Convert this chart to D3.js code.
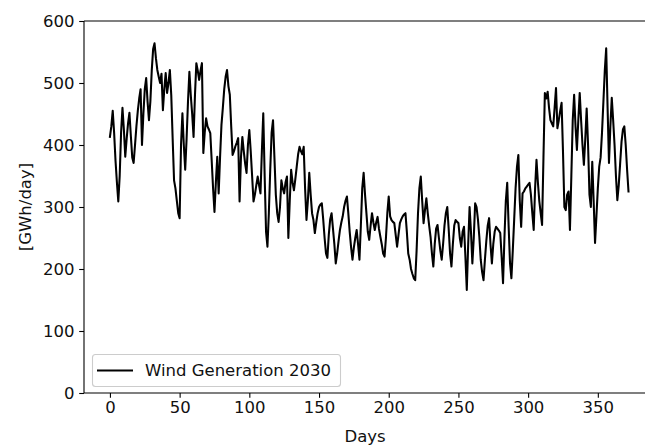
<!DOCTYPE html>
<html>
<head>
<meta charset="utf-8">
<script src="https://cdn.jsdelivr.net/npm/d3@7/dist/d3.min.js"></script>
<style>
  html, body { margin: 0; padding: 0; background: #fff; }
  svg { display: block; font-family: "DejaVu Sans", sans-serif; }
</style>
</head>
<body>
<svg id="chart" width="645" height="446"></svg>
<script>
// Daily wind generation for 2030, GWh/day
const windGeneration2030 = [
  413, 430, 455, 420, 375, 340, 309, 350, 420, 460,
  425, 381, 410, 435, 452, 415, 380, 371, 400, 430,
  455, 475, 490, 400, 450, 490, 508, 470, 440, 470,
  520, 555, 564, 540, 521, 510, 500, 515, 456, 490,
  516, 484, 500, 521, 480, 410, 343, 330, 310, 290,
  282, 400, 451, 400, 360, 410, 470, 518, 480, 450,
  413, 480, 532, 520, 505, 520, 532, 387, 420, 443,
  430, 425, 419, 375, 330, 292, 340, 381, 322, 380,
  432, 460, 490, 510, 521, 495, 481, 430, 384, 390,
  398, 404, 411, 309, 380, 413, 390, 370, 355, 400,
  424, 390, 350, 309, 320, 335, 349, 335, 322, 390,
  451, 350, 260, 236, 290, 360, 420, 440, 380, 320,
  290, 276, 300, 343, 330, 322, 340, 349, 250, 310,
  360, 340, 327, 345, 365, 385, 397, 390, 385, 397,
  330, 279, 310, 355, 320, 290, 279, 258, 275, 290,
  300, 304, 306, 280, 250, 225, 218, 255, 280, 290,
  265, 240, 209, 225, 245, 263, 275, 285, 300, 310,
  317, 290, 260, 235, 215, 235, 250, 263, 240, 215,
  270, 330, 355, 320, 290, 260, 247, 270, 290, 275,
  263, 275, 284, 265, 252, 240, 225, 220, 250, 290,
  317, 285, 279, 276, 274, 255, 236, 255, 274, 280,
  285, 288, 290, 260, 225, 215, 200, 192, 185, 182,
  230, 290, 330, 349, 310, 274, 295, 314, 290, 270,
  252, 225, 204, 240, 265, 271, 250, 230, 215, 240,
  270, 290, 300, 265, 225, 204, 240, 270, 279, 276,
  274, 250, 236, 260, 268, 220, 166, 240, 300, 260,
  209, 250, 306, 300, 280, 252, 215, 195, 182, 215,
  245, 270, 282, 240, 209, 240, 260, 268, 265, 262,
  258, 220, 177, 250, 310, 339, 270, 210, 185, 230,
  280, 330, 365, 384, 310, 268, 322, 325, 330, 333,
  336, 339, 320, 290, 263, 330, 376, 340, 310, 290,
  271, 380, 484, 475, 486, 460, 440, 435, 430, 460,
  492, 427, 440, 455, 468, 390, 300, 295, 320, 325,
  263, 350, 440, 481, 430, 392, 440, 484, 440, 400,
  368, 410, 459, 400, 320, 300, 373, 310, 242, 285,
  330, 365, 380, 420, 470, 520, 556, 460, 371, 430,
  476, 440, 400, 350, 311, 335, 370, 405, 425, 430,
  400, 360, 325
];
const days = windGeneration2030.map((_, i) => i);

const xTicks = [0, 50, 100, 150, 200, 250, 300, 350];
const yTicks = [0, 100, 200, 300, 400, 500, 600];
const seriesLabel = "Wind Generation 2030";
const xLabel = "Days";
const yLabel = "[GWh/day]";

const svg = d3.select("#chart");
const fontSize = 16.5;
const textColor = "#111";

// Axes box: left spine at 84, top spine at 21, bottom spine at 393
const plot = { left: 84, top: 21, bottom: 393 };
const xMin = d3.min(days), xMax = d3.max(days);
const pad = (xMax - xMin) * 0.05;
const pxPerDay = 1.394;
const x = d3.scaleLinear()
  .domain([xMin - pad, xMax + pad])
  .range([plot.left, plot.left + (xMax - xMin + 2 * pad) * pxPerDay]);
const y = d3.scaleLinear().domain([0, 600]).range([plot.bottom, plot.top]);
const right = x.range()[1];

const axisColor = "#000";

// Series line
const line = d3.line()
  .x((d, i) => x(days[i]))
  .y(d => y(d));

svg.append("path")
  .datum(windGeneration2030)
  .attr("fill", "none")
  .attr("stroke", "#000")
  .attr("stroke-width", 2.06)
  .attr("stroke-linejoin", "round")
  .attr("stroke-linecap", "square")
  .attr("d", line);

// Bottom axis
const xAxis = svg.append("g")
  .attr("transform", `translate(0,${plot.bottom})`)
  .call(d3.axisBottom(x).tickValues(xTicks).tickSize(4.8).tickPadding(3.6).tickFormat(d3.format("d")));
xAxis.select(".domain").remove();
xAxis.selectAll(".tick line").attr("stroke", axisColor).attr("stroke-width", 1.1);
xAxis.selectAll(".tick text").attr("fill", textColor).attr("font-size", fontSize).attr("font-family", "DejaVu Sans");

// Left axis
const yAxis = svg.append("g")
  .attr("transform", `translate(${plot.left},0)`)
  .call(d3.axisLeft(y).tickValues(yTicks).tickSize(4.8).tickPadding(4.8).tickFormat(d3.format("d")));
yAxis.select(".domain").remove();
yAxis.selectAll(".tick line").attr("stroke", axisColor).attr("stroke-width", 1.1);
yAxis.selectAll(".tick text").attr("fill", textColor).attr("font-size", fontSize).attr("font-family", "DejaVu Sans");

// Spines
const spines = svg.append("g").attr("stroke", axisColor).attr("stroke-width", 1.1).attr("fill", "none");
spines.append("line").attr("x1", plot.left).attr("x2", plot.left).attr("y1", plot.top).attr("y2", plot.bottom);
spines.append("line").attr("x1", plot.left).attr("x2", right).attr("y1", plot.bottom).attr("y2", plot.bottom);
spines.append("line").attr("x1", plot.left).attr("x2", right).attr("y1", plot.top).attr("y2", plot.top);
spines.append("line").attr("x1", right).attr("x2", right).attr("y1", plot.top).attr("y2", plot.bottom);

// Axis labels
svg.append("text")
  .attr("x", x(183))
  .attr("y", 442)
  .attr("text-anchor", "middle")
  .attr("fill", textColor)
  .attr("font-size", fontSize)
  .text(xLabel);

svg.append("text")
  .attr("transform", `translate(31,${(plot.top + plot.bottom) / 2}) rotate(-90)`)
  .attr("text-anchor", "middle")
  .attr("fill", textColor)
  .attr("font-size", fontSize)
  .text(yLabel);

// Legend
const legend = svg.append("g").attr("transform", "translate(92,354)");
legend.append("rect")
  .attr("x", 0.5).attr("y", 0.5)
  .attr("width", 248).attr("height", 32)
  .attr("rx", 3).attr("ry", 3)
  .attr("fill", "#fff").attr("fill-opacity", 0.8)
  .attr("stroke", "#ccc").attr("stroke-width", 1.1);
legend.append("line")
  .attr("x1", 5).attr("x2", 41)
  .attr("y1", 16.5).attr("y2", 16.5)
  .attr("stroke", "#000").attr("stroke-width", 2.06);
legend.append("text")
  .attr("x", 53).attr("y", 16.5)
  .attr("dy", "0.35em")
  .attr("fill", textColor)
  .attr("font-size", fontSize)
  .text(seriesLabel);
</script>
</body>
</html>
